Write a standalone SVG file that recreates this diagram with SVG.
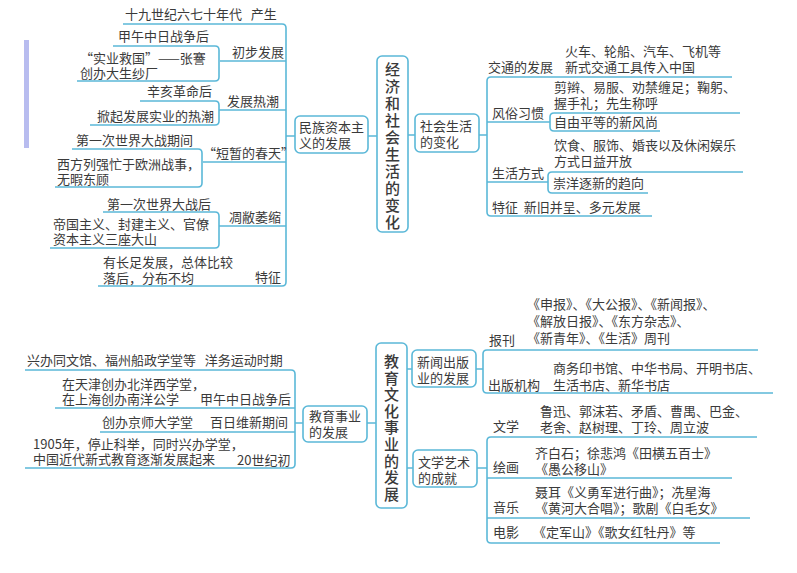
<svg xmlns="http://www.w3.org/2000/svg" width="797" height="573" viewBox="0 0 797 573">
<style>
text{font-family:"Noto Sans CJK SC","Liberation Serif",serif;font-size:13px;fill:#3a3a3a;white-space:pre}
.big{font-size:15px;font-weight:500;text-anchor:middle}
.l{fill:none;stroke:#5bb8d8;stroke-width:1.6}
.n{fill:#fff;stroke:#5bb8d8;stroke-width:1.6}
</style>
<rect width="797" height="573" fill="#fff"/>
<rect x="24" y="40" width="5" height="108" fill="#9aa0e8" opacity="0.7"/>
<g id="connectors" class="l">
<path d="M123 24H282q4 0 4 4V282q0 4-4 4H98"/>
<path d="M220 61H286M113 46H215q4 0 4 4V77q0 4-4 4H77"/>
<path d="M219 110H286M140 101H215q4 0 4 4V121q0 4-4 4H90"/>
<path d="M203 162H286M72 149H198q4 0 4 4V183q0 4-4 4H55"/>
<path d="M219 226H286M103 212H215q4 0 4 4V244q0 4-4 4H50"/>
<path d="M286 136H295M368 136H377"/>
<path d="M408 135H415M479 135H487"/>
<path d="M732 77H491q-4 0-4 4V212q0 4 4 4H652"/>
<path d="M487 122H550M740 113H554q-4 0-4 4V127q0 4 4 4H660"/>
<path d="M487 182H548M743 172H552q-4 0-4 4V189q0 4 4 4H648"/>
<path d="M25 370H291q4 0 4 4V464q0 4-4 4H25"/>
<path d="M55 408H295M100 432H295M295 423H303M367 423H377"/>
<path d="M407 369H412M476 369H483M758 350H487q-4 0-4 4V389q0 4 4 4H773"/>
<path d="M407 468H413M477 468H487M757 437H491q-4 0-4 4V539q0 4 4 4H720"/>
<path d="M487 478H732M487 518H750"/>
</g>
<g id="n1"><text x="125" y="19">十九世纪六七十年代   产生</text></g>
<g id="n2"><text x="232" y="57">初步发展</text><text x="118" y="41">甲午中日战争后</text><text x="80" y="63">“实业救国”——张謇</text><text x="80" y="78">创办大生纱厂</text></g>
<g id="n3"><text x="227" y="106">发展热潮</text><text x="147" y="96">辛亥革命后</text><text x="97" y="121">掀起发展实业的热潮</text></g>
<g id="n4"><text x="203" y="158">“短暂的春天”</text><text x="76" y="145">第一次世界大战期间</text><text x="57" y="169">西方列强忙于欧洲战事，</text><text x="57" y="184">无暇东顾</text></g>
<g id="n5"><text x="229" y="222">凋敝萎缩</text><text x="107" y="209">第一次世界大战后</text><text x="53" y="229">帝国主义、封建主义、官僚</text><text x="53" y="244">资本主义三座大山</text></g>
<g id="n6"><text x="255" y="282">特征</text><text x="103" y="267">有长足发展，总体比较</text><text x="103" y="283">落后，分布不均</text></g>
<g id="minzu"><rect class="n" x="295" y="116" width="73" height="37" rx="5"/><text x="299" y="132">民族资本主</text><text x="299" y="148">义的发展</text></g>
<g id="jingji"><rect class="n" x="377" y="56" width="31" height="176" rx="5"/>
<text class="big"><tspan x="392.5" y="75">经</tspan><tspan x="392.5" y="92">济</tspan><tspan x="392.5" y="109">和</tspan><tspan x="392.5" y="126">社</tspan><tspan x="392.5" y="143">会</tspan><tspan x="392.5" y="160">生</tspan><tspan x="392.5" y="177">活</tspan><tspan x="392.5" y="194">的</tspan><tspan x="392.5" y="211">变</tspan><tspan x="392.5" y="228">化</tspan></text></g>
<g id="shehui"><rect class="n" x="415" y="114" width="64" height="38" rx="5"/><text x="420" y="131">社会生活</text><text x="420" y="147">的变化</text></g>
<g id="jiaotong"><text x="488" y="72">交通的发展</text><text x="565" y="56">火车、轮船、汽车、飞机等</text><text x="565" y="72">新式交通工具传入中国</text></g>
<g id="fengsu"><text x="492" y="118">风俗习惯</text><text x="554" y="92">剪辫、易服、劝禁缠足；鞠躬、</text><text x="554" y="108">握手礼；先生称呼</text><text x="554" y="127">自由平等的新风尚</text></g>
<g id="shenghuo"><text x="492" y="178">生活方式</text><text x="554" y="150">饮食、服饰、婚丧以及休闲娱乐</text><text x="554" y="166">方式日益开放</text><text x="553" y="188">崇洋逐新的趋向</text></g>
<g id="tezheng2"><text x="492" y="212">特征  新旧并呈、多元发展</text></g>
<g id="e1"><text x="27" y="365">兴办同文馆、福州船政学堂等   洋务运动时期</text></g>
<g id="e2"><text x="62" y="389">在天津创办北洋西学堂，</text><text x="62" y="404">在上海创办南洋公学</text><text x="200" y="404">甲午中日战争后</text></g>
<g id="e3"><text x="102" y="427">创办京师大学堂</text><text x="210" y="427">百日维新期间</text></g>
<g id="e4"><text x="33" y="449">1905年，停止科举，同时兴办学堂，</text><text x="33" y="464">中国近代新式教育逐渐发展起来</text><text x="237" y="465">20世纪初</text></g>
<g id="jiaoyu"><rect class="n" x="303" y="406" width="64" height="36" rx="5"/><text x="309" y="421">教育事业</text><text x="309" y="437">的发展</text></g>
<g id="wenhua"><rect class="n" x="376" y="343" width="31" height="165" rx="5"/>
<text class="big"><tspan x="391.5" y="367">教</tspan><tspan x="391.5" y="384">育</tspan><tspan x="391.5" y="400">文</tspan><tspan x="391.5" y="417">化</tspan><tspan x="391.5" y="433">事</tspan><tspan x="391.5" y="450">业</tspan><tspan x="391.5" y="467">的</tspan><tspan x="391.5" y="483">发</tspan><tspan x="391.5" y="500">展</tspan></text></g>
<g id="xinwen"><rect class="n" x="412" y="350" width="64" height="37" rx="5"/><text x="417" y="367">新闻出版</text><text x="417" y="383">业的发展</text></g>
<g id="baokan"><text x="489" y="345">报刊</text><text x="527" y="309">《申报》、《大公报》、《新闻报》、</text><text x="527" y="326">《解放日报》、《东方杂志》、</text><text x="527" y="343">《新青年》、《生活》周刊</text></g>
<g id="chuban"><text x="488" y="390">出版机构</text><text x="553" y="373">商务印书馆、中华书局、开明书店、</text><text x="553" y="390">生活书店、新华书店</text></g>
<g id="wenyi"><rect class="n" x="413" y="450" width="64" height="37" rx="5"/><text x="418" y="467">文学艺术</text><text x="418" y="483">的成就</text></g>
<g id="wenxue"><text x="493" y="431">文学</text><text x="540" y="416">鲁迅、郭沫若、矛盾、曹禺、巴金、</text><text x="540" y="432">老舍、赵树理、丁玲、周立波</text></g>
<g id="huihua"><text x="493" y="472">绘画</text><text x="535" y="458">齐白石；徐悲鸿《田横五百士》</text><text x="535" y="474">《愚公移山》</text></g>
<g id="yinyue"><text x="493" y="512">音乐</text><text x="535" y="497">聂耳《义勇军进行曲》；冼星海</text><text x="535" y="513">《黄河大合唱》；歌剧《白毛女》</text></g>
<g id="dianying"><text x="493" y="537">电影</text><text x="533" y="537">《定军山》《歌女红牡丹》等</text></g>
</svg>
